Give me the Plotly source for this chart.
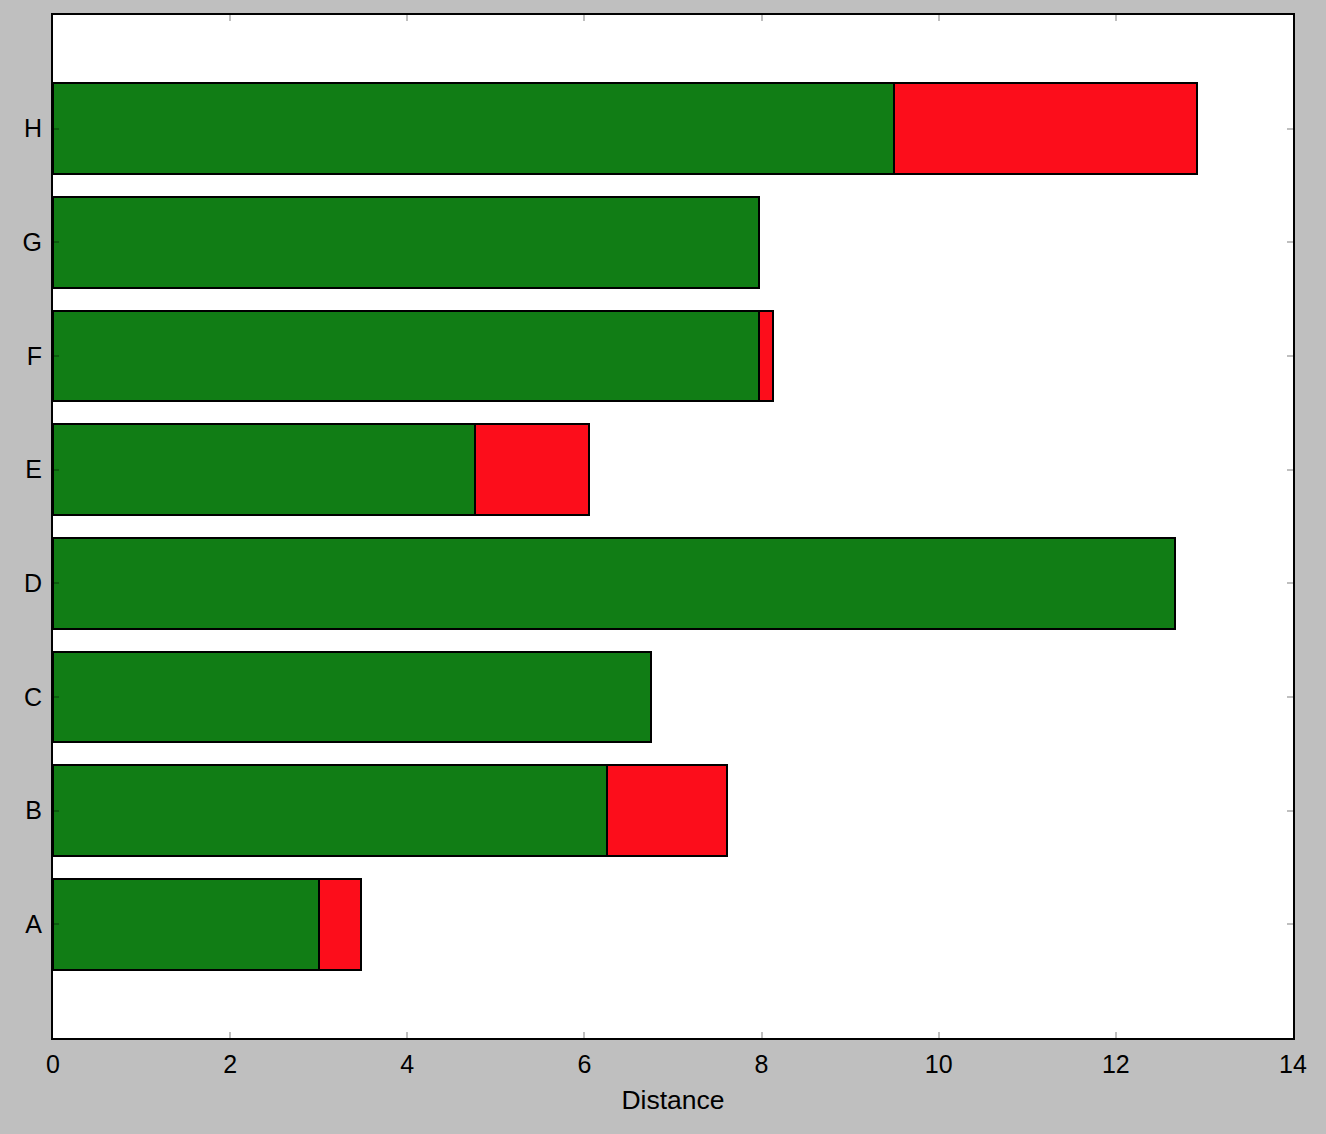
import plotly.graph_objects as go

categories = ["A", "B", "C", "D", "E", "F", "G", "H"]
green_values = [3.0, 6.25, 6.75, 12.67, 4.76, 7.97, 7.97, 9.5]
red_values = [0.48, 1.36, 0, 0, 1.29, 0.16, 0, 3.42]
x_ticks = [0, 2, 4, 6, 8, 10, 12, 14]

fig = go.Figure()
fig.add_trace(go.Bar(y=categories, x=green_values, orientation="h",
                     marker=dict(color="#117d15", line=dict(color="black", width=2)),
                     showlegend=False))
fig.add_trace(go.Bar(y=categories, x=red_values, orientation="h",
                     marker=dict(color="#fc0d1b", line=dict(color="black", width=2)),
                     showlegend=False))

font = dict(family="Liberation Sans, Arial, sans-serif", size=25, color="black")
fig.update_layout(
    width=1326, height=1134,
    barmode="stack", bargap=0.2,
    paper_bgcolor="#bfbfbf", plot_bgcolor="white",
    margin=dict(l=53, r=33, t=15, b=96),
    font=font,
    xaxis=dict(range=[0, 14], tickvals=x_ticks, ticks="inside", ticklen=6, tickwidth=2,
               tickcolor="rgba(0,0,0,0.25)", showline=True, linecolor="black", linewidth=2,
               mirror="ticks", showgrid=False, zeroline=False, ticklabelstandoff=3,
               title=dict(text="Distance", standoff=13, font=dict(size=26.5)), tickfont=font),
    yaxis=dict(type="category", categoryarray=categories, range=[-1, 8],
               ticks="inside", ticklen=6, tickwidth=2, tickcolor="rgba(0,0,0,0.25)",
               showline=True, linecolor="black", linewidth=2, mirror="ticks",
               showgrid=False, zeroline=False, ticklabelstandoff=4, tickfont=font),
)
fig.write_html("out.html")
